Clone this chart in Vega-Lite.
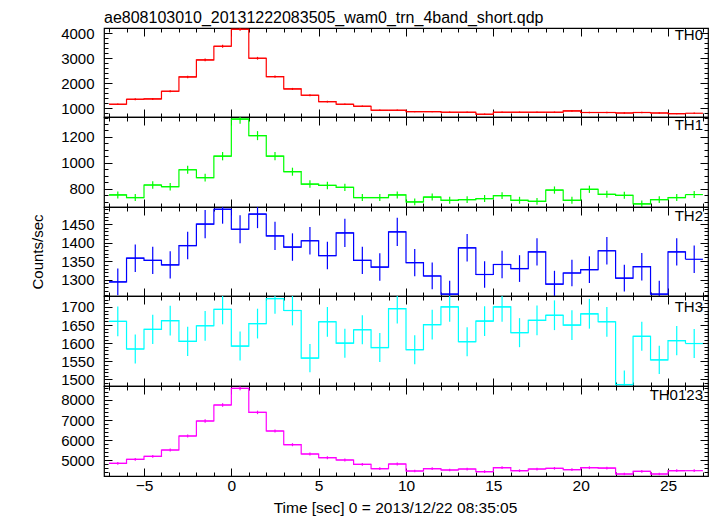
{
  "$schema": "https://vega.github.io/schema/vega-lite/v6.json",
  "padding": {"left": 30, "top": 9, "right": 6, "bottom": 2},
  "spacing": 0,
  "bounds": "flush",
  "title": {"text": "ae808103010_20131222083505_wam0_trn_4band_short.qdp", "anchor": "start", "fontSize": 16, "offset": -5, "frame": "group"},
  "config": {
    "view": {"stroke": "#000", "strokeWidth": 1.2},
    "axis": {"labelFont": "Liberation Sans", "titleFont": "Liberation Sans", "labelColor": "#000", "titleColor": "#000", "tickColor": "#000", "labelFontSize": 15, "titleFontWeight": "normal", "grid": false, "domain": false, "labelOverlap": false, "labelFlush": false},
    "title": {"font": "Liberation Sans", "fontWeight": "normal", "color": "#000"},
    "concat": {"spacing": 0}
  },
  "data": {"values": [
    {"band":"TH0","t":-6.5,"rate":1160,"err":34},{"band":"TH0","t":-5.5,"rate":1360,"err":37},{"band":"TH0","t":-4.5,"rate":1372,"err":37},{"band":"TH0","t":-3.5,"rate":1680,"err":41},{"band":"TH0","t":-2.5,"rate":2252,"err":47},{"band":"TH0","t":-1.5,"rate":2932,"err":54},{"band":"TH0","t":-0.5,"rate":3480,"err":59},{"band":"TH0","t":0.5,"rate":4160,"err":64},{"band":"TH0","t":1.5,"rate":3000,"err":55},{"band":"TH0","t":2.5,"rate":2264,"err":48},{"band":"TH0","t":3.5,"rate":1772,"err":42},{"band":"TH0","t":4.5,"rate":1520,"err":39},{"band":"TH0","t":5.5,"rate":1264,"err":36},{"band":"TH0","t":6.5,"rate":1160,"err":34},{"band":"TH0","t":7.5,"rate":1080,"err":33},{"band":"TH0","t":8.5,"rate":920,"err":30},{"band":"TH0","t":9.5,"rate":920,"err":30},{"band":"TH0","t":10.5,"rate":866,"err":29},{"band":"TH0","t":11.5,"rate":866,"err":29},{"band":"TH0","t":12.5,"rate":840,"err":29},{"band":"TH0","t":13.5,"rate":840,"err":29},{"band":"TH0","t":14.5,"rate":760,"err":28},{"band":"TH0","t":15.5,"rate":840,"err":29},{"band":"TH0","t":16.5,"rate":840,"err":29},{"band":"TH0","t":17.5,"rate":840,"err":29},{"band":"TH0","t":18.5,"rate":840,"err":29},{"band":"TH0","t":19.5,"rate":892,"err":30},{"band":"TH0","t":20.5,"rate":830,"err":29},{"band":"TH0","t":21.5,"rate":830,"err":29},{"band":"TH0","t":22.5,"rate":810,"err":28},{"band":"TH0","t":23.5,"rate":830,"err":29},{"band":"TH0","t":24.5,"rate":810,"err":28},{"band":"TH0","t":25.5,"rate":784,"err":28},{"band":"TH0","t":26.5,"rate":800,"err":28},
    {"band":"TH1","t":-6.5,"rate":751,"err":27},{"band":"TH1","t":-5.5,"rate":731,"err":27},{"band":"TH1","t":-4.5,"rate":828,"err":29},{"band":"TH1","t":-3.5,"rate":815,"err":29},{"band":"TH1","t":-2.5,"rate":946,"err":31},{"band":"TH1","t":-1.5,"rate":885,"err":30},{"band":"TH1","t":-0.5,"rate":1051,"err":32},{"band":"TH1","t":0.5,"rate":1338,"err":37},{"band":"TH1","t":1.5,"rate":1210,"err":35},{"band":"TH1","t":2.5,"rate":1051,"err":32},{"band":"TH1","t":3.5,"rate":931,"err":31},{"band":"TH1","t":4.5,"rate":835,"err":29},{"band":"TH1","t":5.5,"rate":825,"err":29},{"band":"TH1","t":6.5,"rate":810,"err":28},{"band":"TH1","t":7.5,"rate":731,"err":27},{"band":"TH1","t":8.5,"rate":731,"err":27},{"band":"TH1","t":9.5,"rate":751,"err":27},{"band":"TH1","t":10.5,"rate":697,"err":26},{"band":"TH1","t":11.5,"rate":735,"err":27},{"band":"TH1","t":12.5,"rate":710,"err":27},{"band":"TH1","t":13.5,"rate":715,"err":27},{"band":"TH1","t":14.5,"rate":723,"err":27},{"band":"TH1","t":15.5,"rate":746,"err":27},{"band":"TH1","t":16.5,"rate":710,"err":27},{"band":"TH1","t":17.5,"rate":702,"err":26},{"band":"TH1","t":18.5,"rate":789,"err":28},{"band":"TH1","t":19.5,"rate":710,"err":27},{"band":"TH1","t":20.5,"rate":795,"err":28},{"band":"TH1","t":21.5,"rate":756,"err":27},{"band":"TH1","t":22.5,"rate":748,"err":27},{"band":"TH1","t":23.5,"rate":682,"err":26},{"band":"TH1","t":24.5,"rate":715,"err":27},{"band":"TH1","t":25.5,"rate":731,"err":27},{"band":"TH1","t":26.5,"rate":754,"err":27},
    {"band":"TH2","t":-6.5,"rate":1294,"err":36},{"band":"TH2","t":-5.5,"rate":1358,"err":37},{"band":"TH2","t":-4.5,"rate":1352,"err":37},{"band":"TH2","t":-3.5,"rate":1340,"err":37},{"band":"TH2","t":-2.5,"rate":1392,"err":37},{"band":"TH2","t":-1.5,"rate":1450,"err":38},{"band":"TH2","t":-0.5,"rate":1490,"err":39},{"band":"TH2","t":0.5,"rate":1436,"err":38},{"band":"TH2","t":1.5,"rate":1477,"err":38},{"band":"TH2","t":2.5,"rate":1418,"err":38},{"band":"TH2","t":3.5,"rate":1388,"err":37},{"band":"TH2","t":4.5,"rate":1405,"err":37},{"band":"TH2","t":5.5,"rate":1365,"err":37},{"band":"TH2","t":6.5,"rate":1426,"err":38},{"band":"TH2","t":7.5,"rate":1352,"err":37},{"band":"TH2","t":8.5,"rate":1334,"err":37},{"band":"TH2","t":9.5,"rate":1429,"err":38},{"band":"TH2","t":10.5,"rate":1346,"err":37},{"band":"TH2","t":11.5,"rate":1310,"err":36},{"band":"TH2","t":12.5,"rate":1261,"err":36},{"band":"TH2","t":13.5,"rate":1386,"err":37},{"band":"TH2","t":14.5,"rate":1314,"err":36},{"band":"TH2","t":15.5,"rate":1341,"err":37},{"band":"TH2","t":16.5,"rate":1330,"err":36},{"band":"TH2","t":17.5,"rate":1375,"err":37},{"band":"TH2","t":18.5,"rate":1288,"err":36},{"band":"TH2","t":19.5,"rate":1318,"err":36},{"band":"TH2","t":20.5,"rate":1327,"err":36},{"band":"TH2","t":21.5,"rate":1378,"err":37},{"band":"TH2","t":22.5,"rate":1304,"err":36},{"band":"TH2","t":23.5,"rate":1335,"err":37},{"band":"TH2","t":24.5,"rate":1261,"err":36},{"band":"TH2","t":25.5,"rate":1375,"err":37},{"band":"TH2","t":26.5,"rate":1355,"err":37},
    {"band":"TH3","t":-6.5,"rate":1660,"err":41},{"band":"TH3","t":-5.5,"rate":1584,"err":40},{"band":"TH3","t":-4.5,"rate":1638,"err":40},{"band":"TH3","t":-3.5,"rate":1662,"err":41},{"band":"TH3","t":-2.5,"rate":1605,"err":40},{"band":"TH3","t":-1.5,"rate":1648,"err":41},{"band":"TH3","t":-0.5,"rate":1693,"err":41},{"band":"TH3","t":0.5,"rate":1592,"err":40},{"band":"TH3","t":1.5,"rate":1654,"err":41},{"band":"TH3","t":2.5,"rate":1723,"err":42},{"band":"TH3","t":3.5,"rate":1690,"err":41},{"band":"TH3","t":4.5,"rate":1559,"err":39},{"band":"TH3","t":5.5,"rate":1659,"err":41},{"band":"TH3","t":6.5,"rate":1600,"err":40},{"band":"TH3","t":7.5,"rate":1637,"err":40},{"band":"TH3","t":8.5,"rate":1588,"err":40},{"band":"TH3","t":9.5,"rate":1695,"err":41},{"band":"TH3","t":10.5,"rate":1582,"err":40},{"band":"TH3","t":11.5,"rate":1651,"err":41},{"band":"TH3","t":12.5,"rate":1700,"err":41},{"band":"TH3","t":13.5,"rate":1604,"err":40},{"band":"TH3","t":14.5,"rate":1661,"err":41},{"band":"TH3","t":15.5,"rate":1700,"err":41},{"band":"TH3","t":16.5,"rate":1629,"err":40},{"band":"TH3","t":17.5,"rate":1663,"err":41},{"band":"TH3","t":18.5,"rate":1677,"err":41},{"band":"TH3","t":19.5,"rate":1650,"err":41},{"band":"TH3","t":20.5,"rate":1681,"err":41},{"band":"TH3","t":21.5,"rate":1659,"err":41},{"band":"TH3","t":22.5,"rate":1486,"err":39},{"band":"TH3","t":23.5,"rate":1619,"err":40},{"band":"TH3","t":24.5,"rate":1554,"err":39},{"band":"TH3","t":25.5,"rate":1607,"err":40},{"band":"TH3","t":26.5,"rate":1599,"err":40},
    {"band":"TH0123","t":-6.5,"rate":4851,"err":70},{"band":"TH0123","t":-5.5,"rate":5050,"err":71},{"band":"TH0123","t":-4.5,"rate":5199,"err":72},{"band":"TH0123","t":-3.5,"rate":5516,"err":74},{"band":"TH0123","t":-2.5,"rate":6212,"err":79},{"band":"TH0123","t":-1.5,"rate":6957,"err":83},{"band":"TH0123","t":-0.5,"rate":7752,"err":88},{"band":"TH0123","t":0.5,"rate":8576,"err":93},{"band":"TH0123","t":1.5,"rate":7384,"err":86},{"band":"TH0123","t":2.5,"rate":6460,"err":80},{"band":"TH0123","t":3.5,"rate":5780,"err":76},{"band":"TH0123","t":4.5,"rate":5318,"err":73},{"band":"TH0123","t":5.5,"rate":5134,"err":72},{"band":"TH0123","t":6.5,"rate":5020,"err":71},{"band":"TH0123","t":7.5,"rate":4801,"err":69},{"band":"TH0123","t":8.5,"rate":4588,"err":68},{"band":"TH0123","t":9.5,"rate":4821,"err":69},{"band":"TH0123","t":10.5,"rate":4473,"err":67},{"band":"TH0123","t":11.5,"rate":4588,"err":68},{"band":"TH0123","t":12.5,"rate":4523,"err":67},{"band":"TH0123","t":13.5,"rate":4572,"err":68},{"band":"TH0123","t":14.5,"rate":4439,"err":67},{"band":"TH0123","t":15.5,"rate":4637,"err":68},{"band":"TH0123","t":16.5,"rate":4489,"err":67},{"band":"TH0123","t":17.5,"rate":4572,"err":68},{"band":"TH0123","t":18.5,"rate":4605,"err":68},{"band":"TH0123","t":19.5,"rate":4540,"err":67},{"band":"TH0123","t":20.5,"rate":4637,"err":68},{"band":"TH0123","t":21.5,"rate":4621,"err":68},{"band":"TH0123","t":22.5,"rate":4324,"err":66},{"band":"TH0123","t":23.5,"rate":4455,"err":67},{"band":"TH0123","t":24.5,"rate":4324,"err":66},{"band":"TH0123","t":25.5,"rate":4489,"err":67},{"band":"TH0123","t":26.5,"rate":4489,"err":67}
  ]},
  "vconcat": [
    {
      "width": 604, "height": 89,
      "title": {"text": "TH0", "orient": "top", "anchor": "end", "frame": "group", "offset": -22, "dx": -5, "fontSize": 15},
      "transform": [{"filter": "datum.band === 'TH0'"}, {"calculate": "datum.t - 0.5", "as": "t0"}, {"calculate": "datum.t + 0.5", "as": "t1"}, {"calculate": "datum.rate - datum.err", "as": "lo"}, {"calculate": "datum.rate + datum.err", "as": "hi"}],
      "layer": [
        {"mark": {"type": "rule", "color": "#ff0000", "strokeWidth": 1.2, "clip": true},
         "encoding": {
           "x": {"field": "t0", "type": "quantitative", "scale": {"domain": [-7.29, 27.29], "nice": false, "zero": false}, "axis": {"orient": "bottom", "title": null, "labels": false, "values": [-7,-6,-5,-4,-3,-2,-1,0,1,2,3,4,5,6,7,8,9,10,11,12,13,14,15,16,17,18,19,20,21,22,23,24,25,26,27], "tickSize": {"condition": {"test": "datum.value % 5 === 0", "value": -8}, "value": -4}}},
           "x2": {"field": "t1"},
           "y": {"field": "rate", "type": "quantitative", "scale": {"domain": [650, 4210], "nice": false, "zero": false}, "axis": {"orient": "left", "title": null, "format": "d", "labelPadding": 18, "values": [800,1000,1200,1400,1600,1800,2000,2200,2400,2600,2800,3000,3200,3400,3600,3800,4000,4200], "labelExpr": "datum.value % 1000 === 0 ? datum.label : ''", "tickSize": {"condition": {"test": "datum.value % 1000 === 0", "value": -8}, "value": -4}}}
         }},
        {"mark": {"type": "line", "interpolate": "step-after", "color": "#ff0000", "strokeWidth": 1.2, "clip": true},
         "encoding": {
           "x": {"field": "t0", "type": "quantitative", "axis": {"orient": "top", "title": null, "labels": false, "values": [-7,-6,-5,-4,-3,-2,-1,0,1,2,3,4,5,6,7,8,9,10,11,12,13,14,15,16,17,18,19,20,21,22,23,24,25,26,27], "tickSize": {"condition": {"test": "datum.value % 5 === 0", "value": -8}, "value": -4}}},
           "y": {"field": "rate", "type": "quantitative", "axis": {"orient": "right", "title": null, "labels": false, "values": [800,1000,1200,1400,1600,1800,2000,2200,2400,2600,2800,3000,3200,3400,3600,3800,4000,4200], "tickSize": {"condition": {"test": "datum.value % 1000 === 0", "value": -8}, "value": -4}}}
         }},
        {"mark": {"type": "rule", "color": "#ff0000", "strokeWidth": 1.2, "clip": true},
         "encoding": {"x": {"field": "t", "type": "quantitative", "axis": null}, "y": {"field": "lo", "type": "quantitative", "axis": null}, "y2": {"field": "hi"}}}
      ],
      "resolve": {"axis": {"x": "independent", "y": "independent"}}
    },
    {
      "width": 604, "height": 90,
      "title": {"text": "TH1", "orient": "top", "anchor": "end", "frame": "group", "offset": -22, "dx": -5, "fontSize": 15},
      "transform": [{"filter": "datum.band === 'TH1'"}, {"calculate": "datum.t - 0.5", "as": "t0"}, {"calculate": "datum.t + 0.5", "as": "t1"}, {"calculate": "datum.rate - datum.err", "as": "lo"}, {"calculate": "datum.rate + datum.err", "as": "hi"}],
      "layer": [
        {"mark": {"type": "rule", "color": "#00ff00", "strokeWidth": 1.2, "clip": true},
         "encoding": {
           "x": {"field": "t0", "type": "quantitative", "scale": {"domain": [-7.29, 27.29], "nice": false, "zero": false}, "axis": {"orient": "bottom", "title": null, "labels": false, "values": [-7,-6,-5,-4,-3,-2,-1,0,1,2,3,4,5,6,7,8,9,10,11,12,13,14,15,16,17,18,19,20,21,22,23,24,25,26,27], "tickSize": {"condition": {"test": "datum.value % 5 === 0", "value": -8}, "value": -4}}},
           "x2": {"field": "t1"},
           "y": {"field": "rate", "type": "quantitative", "scale": {"domain": [658, 1354], "nice": false, "zero": false}, "axis": {"orient": "left", "title": null, "format": "d", "labelPadding": 18, "values": [700,750,800,850,900,950,1000,1050,1100,1150,1200,1250,1300,1350], "labelExpr": "datum.value % 200 === 0 ? datum.label : ''", "tickSize": {"condition": {"test": "datum.value % 200 === 0", "value": -8}, "value": -4}}}
         }},
        {"mark": {"type": "line", "interpolate": "step-after", "color": "#00ff00", "strokeWidth": 1.2, "clip": true},
         "encoding": {
           "x": {"field": "t0", "type": "quantitative", "axis": {"orient": "top", "title": null, "labels": false, "values": [-7,-6,-5,-4,-3,-2,-1,0,1,2,3,4,5,6,7,8,9,10,11,12,13,14,15,16,17,18,19,20,21,22,23,24,25,26,27], "tickSize": {"condition": {"test": "datum.value % 5 === 0", "value": -8}, "value": -4}}},
           "y": {"field": "rate", "type": "quantitative", "axis": {"orient": "right", "title": null, "labels": false, "values": [700,750,800,850,900,950,1000,1050,1100,1150,1200,1250,1300,1350], "tickSize": {"condition": {"test": "datum.value % 200 === 0", "value": -8}, "value": -4}}}
         }},
        {"mark": {"type": "rule", "color": "#00ff00", "strokeWidth": 1.2, "clip": true},
         "encoding": {"x": {"field": "t", "type": "quantitative", "axis": null}, "y": {"field": "lo", "type": "quantitative", "axis": null}, "y2": {"field": "hi"}}}
      ],
      "resolve": {"axis": {"x": "independent", "y": "independent"}}
    },
    {
      "width": 604, "height": 89,
      "title": {"text": "TH2", "orient": "top", "anchor": "end", "frame": "group", "offset": -22, "dx": -5, "fontSize": 15},
      "transform": [{"filter": "datum.band === 'TH2'"}, {"calculate": "datum.t - 0.5", "as": "t0"}, {"calculate": "datum.t + 0.5", "as": "t1"}, {"calculate": "datum.rate - datum.err", "as": "lo"}, {"calculate": "datum.rate + datum.err", "as": "hi"}],
      "layer": [
        {"mark": {"type": "rule", "color": "#0000ff", "strokeWidth": 1.2, "clip": true},
         "encoding": {
           "x": {"field": "t0", "type": "quantitative", "scale": {"domain": [-7.29, 27.29], "nice": false, "zero": false}, "axis": {"orient": "bottom", "title": null, "labels": false, "values": [-7,-6,-5,-4,-3,-2,-1,0,1,2,3,4,5,6,7,8,9,10,11,12,13,14,15,16,17,18,19,20,21,22,23,24,25,26,27], "tickSize": {"condition": {"test": "datum.value % 5 === 0", "value": -8}, "value": -4}}},
           "x2": {"field": "t1"},
           "y": {"field": "rate", "type": "quantitative", "scale": {"domain": [1256, 1496], "nice": false, "zero": false}, "axis": {"orient": "left", "title": "Counts/sec", "titleFontSize": 15, "titlePadding": 15, "format": "d", "labelPadding": 18, "values": [1260,1270,1280,1290,1300,1310,1320,1330,1340,1350,1360,1370,1380,1390,1400,1410,1420,1430,1440,1450,1460,1470,1480,1490], "labelExpr": "datum.value % 50 === 0 ? datum.label : ''", "tickSize": {"condition": {"test": "datum.value % 50 === 0", "value": -8}, "value": -4}}}
         }},
        {"mark": {"type": "line", "interpolate": "step-after", "color": "#0000ff", "strokeWidth": 1.2, "clip": true},
         "encoding": {
           "x": {"field": "t0", "type": "quantitative", "axis": {"orient": "top", "title": null, "labels": false, "values": [-7,-6,-5,-4,-3,-2,-1,0,1,2,3,4,5,6,7,8,9,10,11,12,13,14,15,16,17,18,19,20,21,22,23,24,25,26,27], "tickSize": {"condition": {"test": "datum.value % 5 === 0", "value": -8}, "value": -4}}},
           "y": {"field": "rate", "type": "quantitative", "axis": {"orient": "right", "title": null, "labels": false, "values": [1260,1270,1280,1290,1300,1310,1320,1330,1340,1350,1360,1370,1380,1390,1400,1410,1420,1430,1440,1450,1460,1470,1480,1490], "tickSize": {"condition": {"test": "datum.value % 50 === 0", "value": -8}, "value": -4}}}
         }},
        {"mark": {"type": "rule", "color": "#0000ff", "strokeWidth": 1.2, "clip": true},
         "encoding": {"x": {"field": "t", "type": "quantitative", "axis": null}, "y": {"field": "lo", "type": "quantitative", "axis": null}, "y2": {"field": "hi"}}}
      ],
      "resolve": {"axis": {"x": "independent", "y": "independent"}}
    },
    {
      "width": 604, "height": 90,
      "title": {"text": "TH3", "orient": "top", "anchor": "end", "frame": "group", "offset": -22, "dx": -5, "fontSize": 15},
      "transform": [{"filter": "datum.band === 'TH3'"}, {"calculate": "datum.t - 0.5", "as": "t0"}, {"calculate": "datum.t + 0.5", "as": "t1"}, {"calculate": "datum.rate - datum.err", "as": "lo"}, {"calculate": "datum.rate + datum.err", "as": "hi"}],
      "layer": [
        {"mark": {"type": "rule", "color": "#00ffff", "strokeWidth": 1.2, "clip": true},
         "encoding": {
           "x": {"field": "t0", "type": "quantitative", "scale": {"domain": [-7.29, 27.29], "nice": false, "zero": false}, "axis": {"orient": "bottom", "title": null, "labels": false, "values": [-7,-6,-5,-4,-3,-2,-1,0,1,2,3,4,5,6,7,8,9,10,11,12,13,14,15,16,17,18,19,20,21,22,23,24,25,26,27], "tickSize": {"condition": {"test": "datum.value % 5 === 0", "value": -8}, "value": -4}}},
           "x2": {"field": "t1"},
           "y": {"field": "rate", "type": "quantitative", "scale": {"domain": [1482, 1730], "nice": false, "zero": false}, "axis": {"orient": "left", "title": null, "format": "d", "labelPadding": 18, "values": [1490,1500,1510,1520,1530,1540,1550,1560,1570,1580,1590,1600,1610,1620,1630,1640,1650,1660,1670,1680,1690,1700,1710,1720], "labelExpr": "datum.value % 50 === 0 ? datum.label : ''", "tickSize": {"condition": {"test": "datum.value % 50 === 0", "value": -8}, "value": -4}}}
         }},
        {"mark": {"type": "line", "interpolate": "step-after", "color": "#00ffff", "strokeWidth": 1.2, "clip": true},
         "encoding": {
           "x": {"field": "t0", "type": "quantitative", "axis": {"orient": "top", "title": null, "labels": false, "values": [-7,-6,-5,-4,-3,-2,-1,0,1,2,3,4,5,6,7,8,9,10,11,12,13,14,15,16,17,18,19,20,21,22,23,24,25,26,27], "tickSize": {"condition": {"test": "datum.value % 5 === 0", "value": -8}, "value": -4}}},
           "y": {"field": "rate", "type": "quantitative", "axis": {"orient": "right", "title": null, "labels": false, "values": [1490,1500,1510,1520,1530,1540,1550,1560,1570,1580,1590,1600,1610,1620,1630,1640,1650,1660,1670,1680,1690,1700,1710,1720], "tickSize": {"condition": {"test": "datum.value % 50 === 0", "value": -8}, "value": -4}}}
         }},
        {"mark": {"type": "rule", "color": "#00ffff", "strokeWidth": 1.2, "clip": true},
         "encoding": {"x": {"field": "t", "type": "quantitative", "axis": null}, "y": {"field": "lo", "type": "quantitative", "axis": null}, "y2": {"field": "hi"}}}
      ],
      "resolve": {"axis": {"x": "independent", "y": "independent"}}
    },
    {
      "width": 604, "height": 90,
      "title": {"text": "TH0123", "orient": "top", "anchor": "end", "frame": "group", "offset": -22, "dx": -5, "fontSize": 15},
      "transform": [{"filter": "datum.band === 'TH0123'"}, {"calculate": "datum.t - 0.5", "as": "t0"}, {"calculate": "datum.t + 0.5", "as": "t1"}, {"calculate": "datum.rate - datum.err", "as": "lo"}, {"calculate": "datum.rate + datum.err", "as": "hi"}],
      "layer": [
        {"mark": {"type": "rule", "color": "#ff00ff", "strokeWidth": 1.2, "clip": true},
         "encoding": {
           "x": {"field": "t0", "type": "quantitative", "scale": {"domain": [-7.29, 27.29], "nice": false, "zero": false}, "axis": {"orient": "bottom", "title": "Time [sec] 0 = 2013/12/22 08:35:05", "titleFontSize": 15.5, "titlePadding": 3, "titleX": 291, "labelPadding": 10, "labelFontSize": 15.5, "values": [-7,-6,-5,-4,-3,-2,-1,0,1,2,3,4,5,6,7,8,9,10,11,12,13,14,15,16,17,18,19,20,21,22,23,24,25,26,27], "labelExpr": "datum.value % 5 === 0 ? datum.label : ''", "tickSize": {"condition": {"test": "datum.value % 5 === 0", "value": -8}, "value": -4}}},
           "x2": {"field": "t1"},
           "y": {"field": "rate", "type": "quantitative", "scale": {"domain": [4225, 8695], "nice": false, "zero": false}, "axis": {"orient": "left", "title": null, "format": "d", "labelPadding": 18, "values": [4400,4600,4800,5000,5200,5400,5600,5800,6000,6200,6400,6600,6800,7000,7200,7400,7600,7800,8000,8200,8400,8600], "labelExpr": "datum.value % 1000 === 0 ? datum.label : ''", "tickSize": {"condition": {"test": "datum.value % 1000 === 0", "value": -8}, "value": -4}}}
         }},
        {"mark": {"type": "line", "interpolate": "step-after", "color": "#ff00ff", "strokeWidth": 1.2, "clip": true},
         "encoding": {
           "x": {"field": "t0", "type": "quantitative", "axis": {"orient": "top", "title": null, "labels": false, "values": [-7,-6,-5,-4,-3,-2,-1,0,1,2,3,4,5,6,7,8,9,10,11,12,13,14,15,16,17,18,19,20,21,22,23,24,25,26,27], "tickSize": {"condition": {"test": "datum.value % 5 === 0", "value": -8}, "value": -4}}},
           "y": {"field": "rate", "type": "quantitative", "axis": {"orient": "right", "title": null, "labels": false, "values": [4400,4600,4800,5000,5200,5400,5600,5800,6000,6200,6400,6600,6800,7000,7200,7400,7600,7800,8000,8200,8400,8600], "tickSize": {"condition": {"test": "datum.value % 1000 === 0", "value": -8}, "value": -4}}}
         }},
        {"mark": {"type": "rule", "color": "#ff00ff", "strokeWidth": 1.2, "clip": true},
         "encoding": {"x": {"field": "t", "type": "quantitative", "axis": null}, "y": {"field": "lo", "type": "quantitative", "axis": null}, "y2": {"field": "hi"}}}
      ],
      "resolve": {"axis": {"x": "independent", "y": "independent"}}
    }
  ]
}
